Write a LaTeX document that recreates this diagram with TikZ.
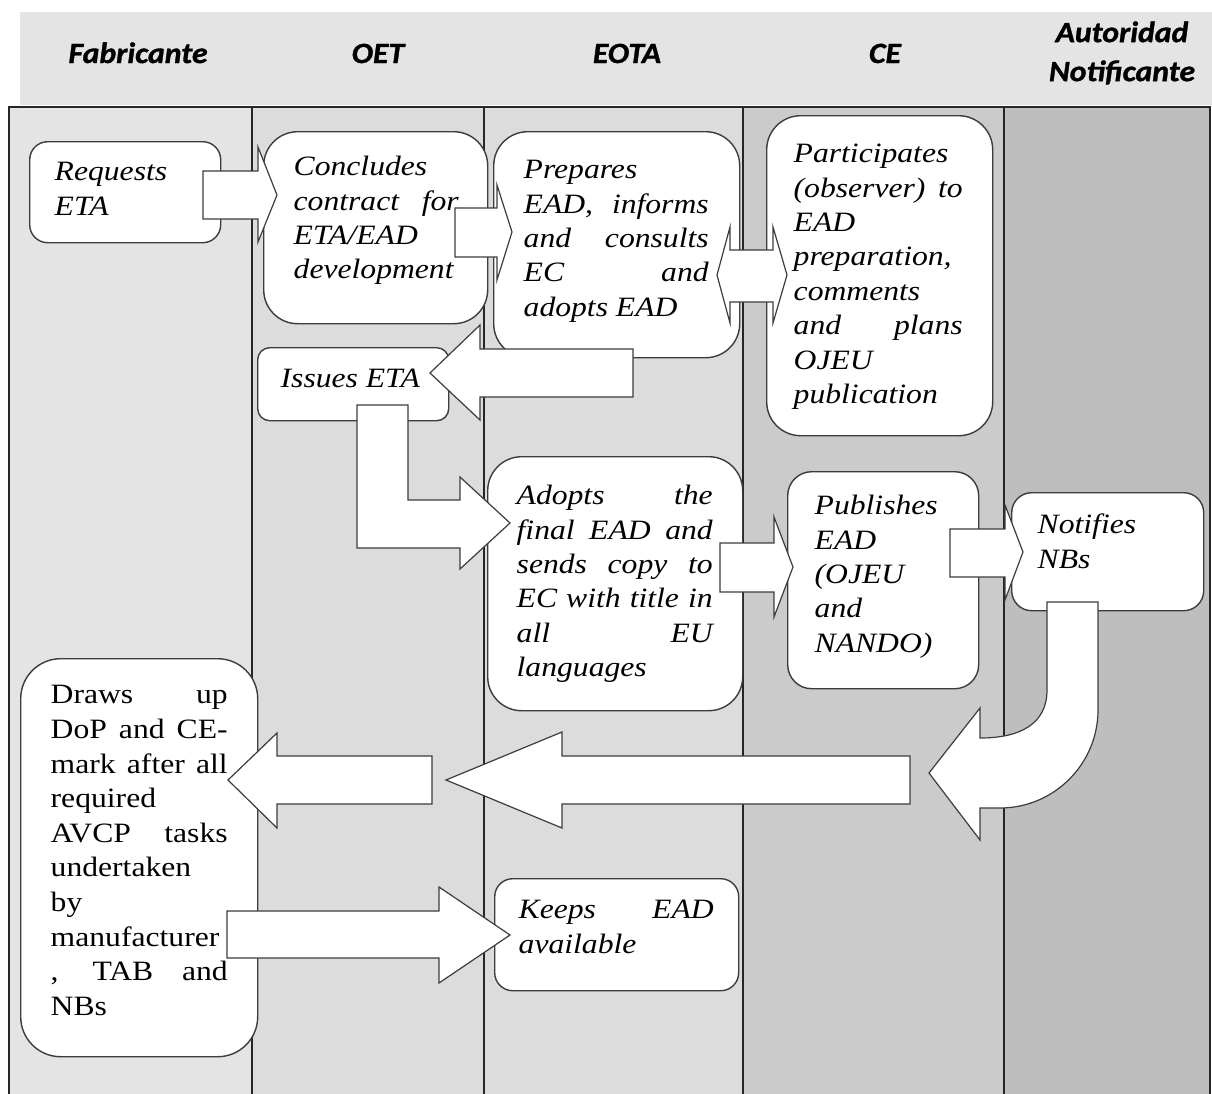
\documentclass[tikz,border=0pt]{standalone}
\usepackage{fontspec}
\setmainfont{Liberation Serif}[FakeStretch=1.13]
\newfontfamily\headfont{Carlito}[FakeStretch=1.08, BoldItalicFeatures={FakeBold=1.2}]
\definecolor{hdrgray}{HTML}{E4E4E4}
\definecolor{fabgray}{HTML}{E4E4E4}
\definecolor{oetgray}{HTML}{DCDCDC}
\definecolor{cegray}{HTML}{CBCBCB}
\definecolor{angray}{HTML}{BEBEBE}
\definecolor{laneline}{HTML}{262626}
\definecolor{boxline}{HTML}{3C3C3C}
\newdimen\pxu \pxu=0.5pt
\newcommand{\boxtext}[6]{\parbox[t][#2\pxu][t]{#1\pxu}{\tolerance=9999\hyphenpenalty=10000\leftskip=#3\pxu\rightskip=#4\pxu\parindent=0pt\vspace*{#5\pxu}\strut #6}}

\begin{document}
\begin{tikzpicture}[x=0.5pt, y=-0.5pt,
    lane/.style={draw=laneline, line width=0.8pt},
    lanehead/.style={font=\headfont\bfseries\itshape\fontsize{14.7}{19.5}\selectfont, inner sep=0pt},
    stepbox/.style={draw=boxline, fill=white, line width=0.7pt, inner sep=0pt, anchor=north west, font=\fontsize{14}{17.2}\selectfont\itshape},
    blockarrow/.style={draw=boxline, fill=white, line width=0.6pt, line join=miter}]
    \useasboundingbox (0,0) rectangle (1212,1094);
    \fill[white] (0,0) rectangle (1212,1094);
    \fill[hdrgray] (20,12) rectangle (1212,105);
    \fill[fabgray] (9,107) rectangle (252,1094);
    \fill[oetgray] (252,107) rectangle (743,1094);
    \fill[cegray] (743,107) rectangle (1004,1094);
    \fill[angray] (1004,107) rectangle (1210,1094);
    \draw[lane] (9,1094) |- (1210,107) -- (1210,1094);
    \foreach \x in {252,484,743,1004} \draw[lane] (\x,107) -- (\x,1094);

    \node[lanehead, anchor=base] (hfab) at (138,63) {Fabricante};
    \node[lanehead, anchor=base] (hoet) at (378,63) {OET};
    \node[lanehead, anchor=base] (heota) at (627,63) {EOTA};
    \node[lanehead, anchor=base] (hce) at (885,63) {CE};
    \node[lanehead, align=center] (hauth) at (1122,53) {Autoridad\\Notificante};

    \node[stepbox, rounded corners=9pt] (req) at (29,141) {\boxtext{191}{101}{25}{30}{15}{Requests\linebreak ETA}};
    \node[stepbox, rounded corners=17pt] (conc) at (263,131) {\boxtext{224}{192}{30}{29}{20}{Concludes\linebreak contract for\linebreak ETA/EAD\linebreak development}};
    \node[stepbox, rounded corners=17pt] (prep) at (493,131) {\boxtext{246}{226}{30}{31}{23}{Prepares\linebreak EAD, informs\linebreak and consults\linebreak EC and\linebreak adopts EAD}};
    \node[stepbox, rounded corners=17pt] (part) at (766,115) {\boxtext{226}{320}{27}{30}{23}{Participates\linebreak (observer) to\linebreak EAD\linebreak preparation,\linebreak comments\linebreak and plans\linebreak OJEU\linebreak publication}};
    \node[stepbox, rounded corners=6pt] (iss) at (257,347) {\boxtext{191}{73}{23}{10}{16}{Issues ETA}};
    \node[stepbox, rounded corners=17pt] (adopt) at (487,456) {\boxtext{255}{254}{29}{30}{24}{Adopts the\linebreak final EAD and\linebreak sends copy to\linebreak EC with title in\linebreak all EU\linebreak languages}};
    \node[stepbox, rounded corners=12pt] (pub) at (787,471) {\boxtext{191}{217}{27}{20}{19}{Publishes\linebreak EAD\linebreak (OJEU\linebreak and\linebreak NANDO)}};
    \node[stepbox, rounded corners=10pt] (notif) at (1011,492) {\boxtext{192}{118}{26}{20}{17}{Notifies\linebreak NBs}};
    \node[stepbox, rounded corners=20pt, font=\fontsize{14}{17.3}\selectfont\upshape] (draws) at (20,658) {\boxtext{237}{398}{30}{30}{21}{Draws up\linebreak DoP and CE-\linebreak mark after all\linebreak required\linebreak AVCP tasks\linebreak undertaken\linebreak by\linebreak manufacturer\linebreak , TAB and\linebreak NBs}};
    \node[stepbox, rounded corners=9pt] (keeps) at (494,878) {\boxtext{244}{112}{24}{25}{16}{Keeps EAD\linebreak available}};

    \draw[blockarrow] (203,171) -- (258,171) -- (258,147) -- (277,195) -- (258,242) -- (258,219) -- (203,219) -- cycle;
    \draw[blockarrow] (455,208) -- (497,208) -- (497,185) -- (512,232) -- (497,280) -- (497,257) -- (455,257) -- cycle;
    \draw[blockarrow] (717,275) -- (730,227) -- (730,250) -- (773,250) -- (773,227) -- (787,275) -- (773,323) -- (773,302) -- (730,302) -- (730,323) -- cycle;
    \draw[blockarrow] (633,349) -- (480,349) -- (480,325) -- (430,373) -- (480,420) -- (480,397) -- (633,397) -- cycle;
    \draw[blockarrow] (357,405) -- (408,405) -- (408,500) -- (460,500) -- (460,477) -- (510,523) -- (460,569) -- (460,548) -- (357,548) -- cycle;
    \draw[blockarrow] (720,543) -- (774,543) -- (774,517) -- (793,567) -- (774,617) -- (774,592) -- (720,592) -- cycle;
    \draw[blockarrow] (950,529) -- (1005,529) -- (1005,505) -- (1023,552) -- (1005,600) -- (1005,577) -- (950,577) -- cycle;
    \draw[blockarrow] (1047,602) -- (1098,602) -- (1098,710) .. controls (1098,764) and (1054,808) .. (1000,808) -- (980,808) -- (980,840) -- (929,773) -- (980,708) -- (980,738) .. controls (1020,738) and (1047,724) .. (1047,690) -- cycle;
    \draw[blockarrow] (910,756) -- (562,756) -- (562,732) -- (446,780) -- (562,828) -- (562,804) -- (910,804) -- cycle;
    \draw[blockarrow] (432,756) -- (277,756) -- (277,733) -- (228,780) -- (277,828) -- (277,804) -- (432,804) -- cycle;
    \draw[blockarrow] (227,911) -- (439,911) -- (439,887) -- (510,935) -- (439,983) -- (439,958) -- (227,958) -- cycle;
\end{tikzpicture}
\end{document}
